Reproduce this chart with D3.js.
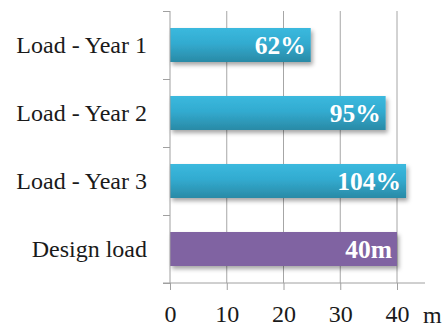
<!DOCTYPE html>
<html><head><meta charset="utf-8">
<script src="https://cdn.jsdelivr.net/npm/d3@7"></script>
<style>html,body{margin:0;padding:0;background:#fff;}</style>
</head><body>
<script>
const categories = ["Load - Year 1", "Load - Year 2", "Load - Year 3", "Design load"];
const values = [24.8, 38, 41.6, 40];
const barLabels = ["62%", "95%", "104%", "40m"];
const barKinds = ["load", "load", "load", "design"];
const xTicks = [0, 10, 20, 30, 40];
const xUnit = "m";

const W = 446, H = 329;
const svg = d3.select("body").append("svg").attr("width", W).attr("height", H);
const defs = svg.append("defs");
const g1 = defs.append("linearGradient").attr("id","cyan").attr("x1",0).attr("y1",0).attr("x2",0).attr("y2",1);
g1.append("stop").attr("offset","0%").attr("stop-color","#3bb9de");
g1.append("stop").attr("offset","45%").attr("stop-color","#32abd0");
g1.append("stop").attr("offset","100%").attr("stop-color","#2a8aa6");
const f = defs.append("filter").attr("id","sh").attr("x","-10%").attr("y","-30%").attr("width","130%").attr("height","180%");
f.append("feDropShadow").attr("dx",2).attr("dy",3).attr("stdDeviation",2).attr("flood-color","#000").attr("flood-opacity",0.35);

const x = d3.scaleLinear().domain([0, 40]).range([170, 397]);
const y = d3.scaleBand().domain(categories).range([11, 283]).paddingInner(0.5).paddingOuter(0.25);
const serif = "'Liberation Serif', serif";

// gridlines
svg.append("g").selectAll("line").data(xTicks.filter(d => d > 0)).join("line")
  .attr("x1", d => x(d)).attr("x2", d => x(d)).attr("y1", 11).attr("y2", 283)
  .attr("stroke", "#a6a6a6").attr("stroke-width", 1);

// bars
svg.append("g").selectAll("rect").data(values).join("rect")
  .attr("x", x(0)).attr("y", (d,i) => y(categories[i]))
  .attr("width", d => x(d) - x(0)).attr("height", y.bandwidth())
  .attr("fill", (d,i) => barKinds[i] === "load" ? "url(#cyan)" : "#8064a2")
  .attr("filter", "url(#sh)");

// bar labels
svg.append("g").selectAll("text").data(values).join("text")
  .attr("x", d => x(d) - 5).attr("y", (d,i) => y(categories[i]) + y.bandwidth()/2 + 8.5)
  .attr("text-anchor", "end").attr("fill", "#fff")
  .attr("font-family", serif).attr("font-weight", "bold")
  .attr("font-size", "25.5px")
  .text((d,i) => barLabels[i]);

// y axis
const yAxis = d3.axisLeft(d3.scaleLinear().domain([0,4]).range([11,283])).ticks(4).tickSize(7).tickFormat("");
const ya = svg.append("g").attr("transform", "translate(170,0)").call(yAxis);
ya.selectAll("path,line").attr("stroke", "#a0a0a0");
ya.select(".domain").attr("d", "M0,11V283");

svg.append("g").selectAll("text").data(categories).join("text")
  .attr("x", 147).attr("y", d => y(d) + y.bandwidth()/2 + 8)
  .attr("text-anchor", "end").attr("fill", "#1a1a1a")
  .attr("font-family", serif).attr("font-size", "24px")
  .text(d => d);

// x axis
const xAxis = d3.axisBottom(x).tickValues(xTicks).tickSize(7).tickPadding(15).tickFormat(d3.format("d"));
const xa = svg.append("g").attr("transform", "translate(0,283)").call(xAxis);
xa.select(".domain").attr("d", "M163,0H425").attr("stroke", "#a0a0a0");
xa.selectAll(".tick line").attr("stroke", "#a0a0a0");
xa.selectAll(".tick text").attr("font-family", serif).attr("font-size", "24px").attr("fill", "#1a1a1a");

svg.append("text").attr("x", 423).attr("y", 323).attr("font-family", serif)
  .attr("font-size", "24px").attr("fill", "#1a1a1a").text(xUnit);
</script>
</body></html>
